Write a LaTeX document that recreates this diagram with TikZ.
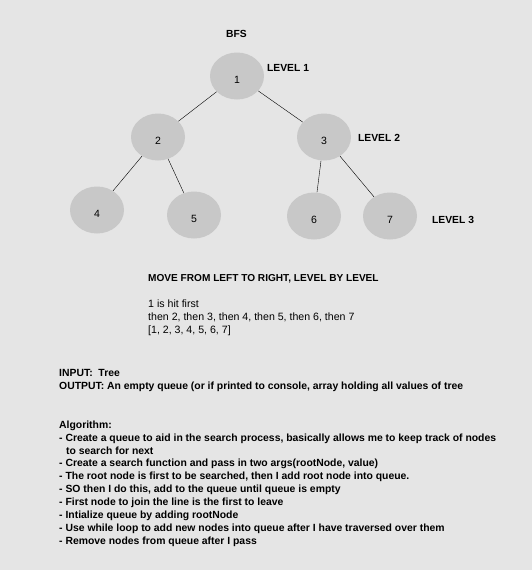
\documentclass[tikz,border=0pt]{standalone}
\usepackage{fontspec}
\setmainfont{Liberation Sans}
\usetikzlibrary{shapes.geometric}
\definecolor{bgGray}{RGB}{229,229,229}
\definecolor{nodeGray}{RGB}{200,200,200}

\begin{document}
\begin{tikzpicture}[x=1pt,y=-1pt,thin,
  main node/.style={ellipse,fill=nodeGray,minimum width=54pt,minimum height=47pt,inner sep=0pt,text height=14pt,text depth=0pt,font=\fontsize{10.5}{12}\selectfont},
  level/.style={anchor=base west,inner sep=0pt,font=\fontsize{10.3}{12}\selectfont\bfseries},
  txt/.style={anchor=north west,inner sep=0pt,align=left,font=\fontsize{10.6}{12.9}\selectfont}]

            \fill[bgGray] (0,0) rectangle (532,570);

            \node[main node] (1) at (237,76) {1};
            \node[main node] (2) at (158,137) {2};
            \node[main node] (3) at (324,137) {3};
            \node[main node] (4) at (97,210) {4};
            \node[main node] (5) at (194,215) {5};
            \node[main node] (6) at (314,216) {6};
            \node[main node] (7) at (390,216) {7};

            \draw[-] (1) to (2);
            \draw[-] (1) to (3);
            \draw[-] (2) to (4);
            \draw[-] (2) to (5);
            \draw[-] (3) to (6);
            \draw[-] (3) to (7);

            \node[level] (bfs) at (226,37) {BFS};
            \node[level] (l1) at (267,71) {LEVEL 1};
            \node[level] (l2) at (358,141) {LEVEL 2};
            \node[level] (l3) at (432,223) {LEVEL 3};

            \node[level,font=\fontsize{10.1}{12}\selectfont\bfseries] (move) at (148,281) {MOVE FROM LEFT TO RIGHT, LEVEL BY LEVEL};
            \node[txt] (order) at (148,299.5) {1 is hit first\\
              then 2, then 3, then 4, then 5, then 6, then 7\\
              {[}1, 2, 3, 4, 5, 6, 7{]}};
            \node[txt,font=\fontsize{10.4}{12.9}\selectfont\bfseries] (io) at (59,369.5) {INPUT:\ \ Tree\\
              OUTPUT: An empty queue (or if printed to console, array holding all values of tree};
            \node[txt,font=\fontsize{10.4}{12.9}\selectfont\bfseries] (algo) at (59,420.5) {Algorithm:\\
              - Create a queue to aid in the search process, basically allows me to keep track of nodes\\
              \hspace*{7pt}to search for next\\
              - Create a search function and pass in two args(rootNode, value)\\
              - The root node is first to be searched, then I add root node into queue.\\
              - SO then I do this, add to the queue until queue is empty\\
              - First node to join the line is the first to leave\\
              - Intialize queue by adding rootNode\\
              - Use while loop to add new nodes into queue after I have traversed over them\\
              - Remove nodes from queue after I pass};

            ;
        \end{tikzpicture}
\end{document}
